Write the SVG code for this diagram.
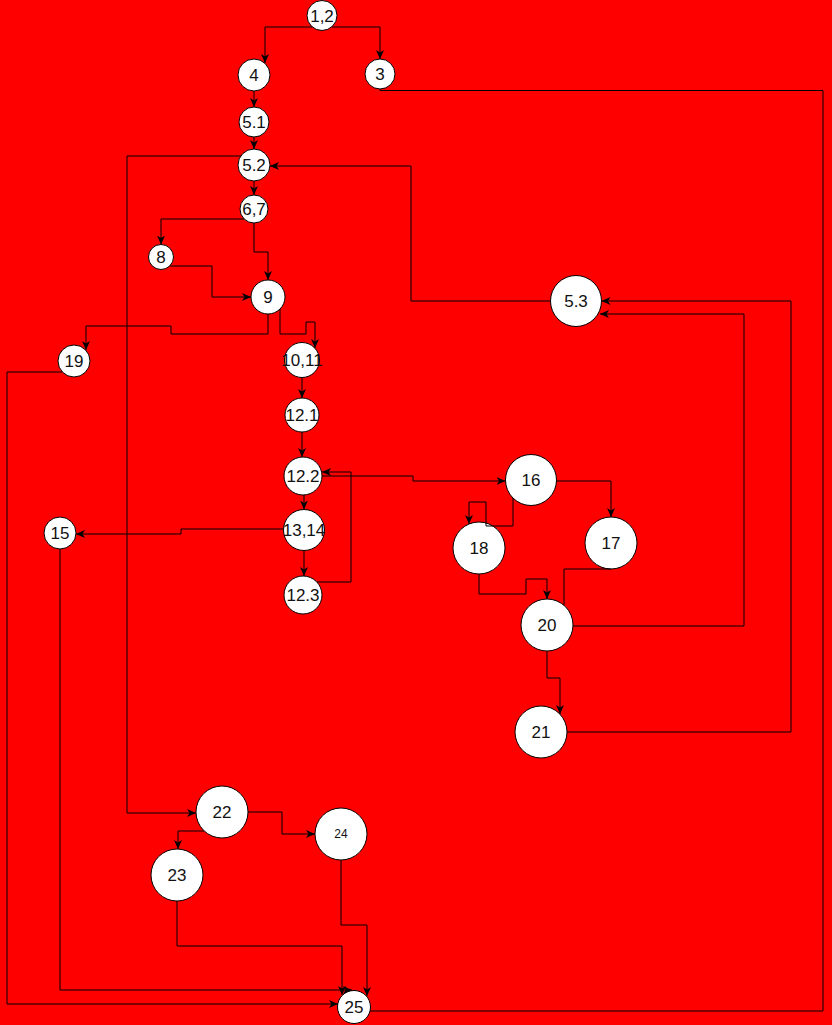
<svg xmlns="http://www.w3.org/2000/svg" width="832" height="1025" viewBox="0 0 832 1025">
<defs>
<marker id="arr" viewBox="0 0 9 8" refX="9" refY="4" markerWidth="9" markerHeight="8" markerUnits="userSpaceOnUse" orient="auto">
<path d="M0,0 L9,4 L0,8 L2.5,4 Z" fill="#000"/>
</marker>
<style>
.n circle{fill:#fff;stroke:#000;stroke-width:1}
.n text{font-family:"Liberation Sans",Arial,sans-serif;font-size:17px;fill:#111;text-anchor:middle}
.e path{fill:none;stroke:#000;stroke-width:1}
.e path.a{marker-end:url(#arr)}
</style>
</defs>
<rect width="832" height="1025" fill="#ff0000"/>
<g id="nodes">
<g id="n12" class="n"><circle cx="322" cy="15.5" r="15"/><text x="322" y="21.5">1,2</text></g>
<g id="n4" class="n"><circle cx="254" cy="75" r="16"/><text x="254" y="81">4</text></g>
<g id="n3" class="n"><circle cx="380" cy="74" r="15"/><text x="380" y="80">3</text></g>
<g id="n51" class="n"><circle cx="254" cy="122" r="15"/><text x="254" y="128">5.1</text></g>
<g id="n52" class="n"><circle cx="254" cy="165" r="16"/><text x="254" y="171">5.2</text></g>
<g id="n67" class="n"><circle cx="254" cy="209" r="14"/><text x="254" y="215">6,7</text></g>
<g id="n8" class="n"><circle cx="161" cy="257" r="12.5"/><text x="161" y="263">8</text></g>
<g id="n9" class="n"><circle cx="268" cy="297" r="17"/><text x="268" y="303">9</text></g>
<g id="n19" class="n"><circle cx="74" cy="361" r="16"/><text x="74" y="367">19</text></g>
<g id="n1011" class="n"><circle cx="302" cy="360" r="17.5"/><text x="302" y="366">10,11</text></g>
<g id="n121" class="n"><circle cx="302" cy="415" r="17"/><text x="302" y="421">12.1</text></g>
<g id="n122" class="n"><circle cx="303" cy="476" r="19"/><text x="303" y="482">12.2</text></g>
<g id="n1314" class="n"><circle cx="304" cy="530" r="20.5"/><text x="304" y="536">13,14</text></g>
<g id="n123" class="n"><circle cx="303" cy="595" r="19"/><text x="303" y="601">12.3</text></g>
<g id="n15" class="n"><circle cx="60" cy="533" r="16"/><text x="60" y="539">15</text></g>
<g id="n16" class="n"><circle cx="531" cy="480" r="25.5"/><text x="531" y="486">16</text></g>
<g id="n18" class="n"><circle cx="479" cy="548" r="26"/><text x="479" y="554">18</text></g>
<g id="n17" class="n"><circle cx="611" cy="543" r="26"/><text x="611" y="549">17</text></g>
<g id="n20" class="n"><circle cx="547" cy="625" r="26"/><text x="547" y="631">20</text></g>
<g id="n21" class="n"><circle cx="541" cy="732" r="26"/><text x="541" y="738">21</text></g>
<g id="n53" class="n"><circle cx="576" cy="301" r="25.5"/><text x="576" y="307">5.3</text></g>
<g id="n22" class="n"><circle cx="222" cy="812" r="26"/><text x="222" y="818">22</text></g>
<g id="n24" class="n"><circle cx="341" cy="834" r="26"/><text x="341" y="838" style="font-size:12px">24</text></g>
<g id="n23" class="n"><circle cx="177" cy="875" r="26"/><text x="177" y="881">23</text></g>
<g id="n25" class="n"><circle cx="354" cy="1007" r="16.5"/><text x="354" y="1013">25</text></g>
</g>
<g id="connectors" class="e">
<path class="a" d="M312,27 H265 V63"/>
<path class="a" d="M332,27 H380 V59"/>
<path class="a" d="M254,91 V107"/>
<path class="a" d="M254,137 V149"/>
<path class="a" d="M254,181 V195"/>
<path d="M380,89 V90.5 H823 V1011 H370"/>
<path class="a" d="M241,156 H127 V813 H196"/>
<path class="a" d="M550.5,301 H411 V166 H270"/>
<path class="a" d="M244,219 H161 V244.5"/>
<path class="a" d="M254,223 V252 H268 V280"/>
<path class="a" d="M170,266 H212 V297 H251"/>
<path class="a" d="M268,314 V334 H171 V326 H86 V350"/>
<path class="a" d="M280,309 V334 H306 V322 H315 V348"/>
<path class="a" d="M302,377.5 V398"/>
<path class="a" d="M302,432 V457"/>
<path class="a" d="M304,495 V509.5"/>
<path class="a" d="M304,550.5 V576"/>
<path class="a" d="M317,582 H351 V472 H322"/>
<path class="a" d="M322,476 H413 V481 H505.5"/>
<path class="a" d="M283.5,529 H181 V534 H76"/>
<path class="a" d="M60,549 V990 H352"/>
<path class="a" d="M62.5,372 H7 V1004 H338"/>
<path class="a" d="M177,901 V946 H342 V995"/>
<path class="a" d="M341,860 V925 H367 V996"/>
<path class="a" d="M204,831 H178 V849"/>
<path class="a" d="M248,812 H282 V834 H315"/>
<path class="a" d="M556.5,481 H611 V517"/>
<path class="a" d="M513,498 V526 H486 V502 H469 V524"/>
<path class="a" d="M479,574 V594 H526 V579 H547 V599"/>
<path d="M611,569 H564 V605"/>
<path class="a" d="M573,626 H744 V314 H600"/>
<path class="a" d="M567,732 H791 V301 H601.5"/>
<path class="a" d="M547,651 V678 H560 V714"/>
</g>
</svg>
